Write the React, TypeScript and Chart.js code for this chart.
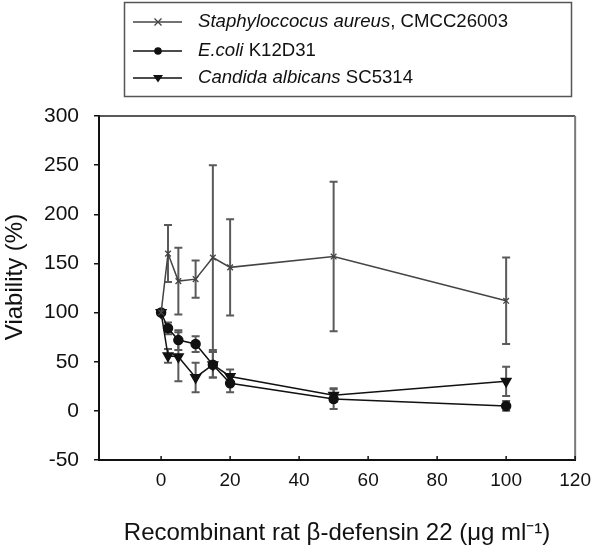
import React, { useEffect, useRef } from "react";
import { Chart, registerables } from "chart.js";

Chart.register(...registerables);

const concentrations = [0, 2, 5, 10, 15, 20, 50, 100];
const aureusValues = [100, 160, 132, 134, 156, 146, 157, 112];
const aureusErrors = [0, 29, 34, 19, 94, 49, 76, 44];
const ecoliValues = [100, 84, 72, 68, 47, 28, 12, 5];
const ecoliErrors = [0, 6, 10, 8, 13, 9, 10, 5];
const albicansValues = [100, 56, 55, 34, 47, 35, 16, 30];
const albicansErrors = [0, 7, 25, 15, 13, 7, 7, 15];
const xTickValues = [0, 20, 40, 60, 80, 100, 120];

const legendItalic = ["Staphyloccocus aureus", "E.coli", "Candida albicans"];
const legendNormal = [", CMCC26003", " K12D31", " SC5314"];
const xTitle = "Recombinant rat \u03b2-defensin 22 (\u03bcg ml\u207b\u00b9)";
const yTitle = "Viability (%)";

const FONT = '"Liberation Sans", Arial, sans-serif';

function drawMarker(ctx: CanvasRenderingContext2D, kind: string, x: number, y: number, color: string) {
  ctx.save();
  ctx.strokeStyle = color;
  ctx.fillStyle = color;
  ctx.lineWidth = 1.3;
  ctx.beginPath();
  if (kind === "cross") {
    const r = 3.5;
    ctx.moveTo(x - r, y - r);
    ctx.lineTo(x + r, y + r);
    ctx.moveTo(x + r, y - r);
    ctx.lineTo(x - r, y + r);
    ctx.stroke();
  } else if (kind === "circle") {
    ctx.arc(x, y, 3.8, 0, Math.PI * 2);
    ctx.fill();
  } else {
    const r = 5;
    ctx.moveTo(x - r, y - r * 0.6);
    ctx.lineTo(x + r, y - r * 0.6);
    ctx.lineTo(x, y + r * 0.9);
    ctx.closePath();
    ctx.fill();
  }
  ctx.restore();
}

const framePlugin = {
  id: "framePlugin",
  beforeDatasetsDraw(chart: any) {
    const { ctx, scales } = chart;
    const x = scales.x;
    const y = scales.y;
    ctx.save();
    ctx.strokeStyle = "#5a5a5a";
    ctx.lineWidth = 2;
    chart.data.datasets.forEach((ds: any) => {
      const errs: number[] = ds.errors || [];
      ds.data.forEach((pt: any, j: number) => {
        const e = errs[j];
        if (!e) return;
        const px = x.getPixelForValue(pt.x);
        const top = y.getPixelForValue(pt.y + e);
        const bot = y.getPixelForValue(pt.y - e);
        ctx.beginPath();
        ctx.moveTo(px, top);
        ctx.lineTo(px, bot);
        ctx.moveTo(px - 4, top);
        ctx.lineTo(px + 4, top);
        ctx.moveTo(px - 4, bot);
        ctx.lineTo(px + 4, bot);
        ctx.stroke();
      });
    });
    ctx.restore();
  },
  afterDraw(chart: any) {
    const { ctx, chartArea, scales } = chart;
    const { left, right, top, bottom } = chartArea;
    ctx.save();
    // top and right frame
    ctx.strokeStyle = "#222";
    ctx.lineWidth = 1.5;
    ctx.beginPath();
    ctx.moveTo(left, top);
    ctx.lineTo(right, top);
    ctx.stroke();
    ctx.strokeStyle = "#7a7a7a";
    ctx.lineWidth = 2;
    ctx.beginPath();
    ctx.moveTo(right, top);
    ctx.lineTo(right, bottom);
    ctx.stroke();
    // x tick marks crossing axis
    ctx.strokeStyle = "#111";
    ctx.lineWidth = 1.5;
    scales.x.ticks.forEach((t: any) => {
      const px = scales.x.getPixelForValue(t.value);
      ctx.beginPath();
      ctx.moveTo(px, bottom - 4);
      ctx.lineTo(px, bottom + 1);
      ctx.stroke();
    });
    // y axis title
    ctx.save();
    ctx.translate(15, 277);
    ctx.rotate(-Math.PI / 2);
    ctx.fillStyle = "#111";
    ctx.font = "24px " + FONT;
    ctx.textAlign = "center";
    ctx.textBaseline = "middle";
    ctx.fillText(yTitle, 0, 0);
    ctx.restore();
    // legend box
    ctx.strokeStyle = "#555";
    ctx.lineWidth = 1.5;
    ctx.strokeRect(124.5, 2.5, 447, 94);
    const rows = [22, 51, 78];
    const kinds = ["cross", "circle", "triangle"];
    const colors = ["#444", "#111", "#111"];
    rows.forEach((ry, i) => {
      ctx.strokeStyle = colors[i];
      ctx.lineWidth = 1.5;
      ctx.beginPath();
      ctx.moveTo(133, ry);
      ctx.lineTo(182, ry);
      ctx.stroke();
      drawMarker(ctx, kinds[i], 158, ry, colors[i]);
      ctx.fillStyle = "#111";
      ctx.textBaseline = "middle";
      ctx.textAlign = "left";
      ctx.font = "italic 18.6px " + FONT;
      ctx.fillText(legendItalic[i], 198, ry);
      const w = ctx.measureText(legendItalic[i]).width;
      ctx.font = "18.6px " + FONT;
      ctx.fillText(legendNormal[i], 198 + w, ry);
    });
    ctx.restore();
  },
};

export default function App() {
  const canvasRef = useRef<HTMLCanvasElement | null>(null);

  useEffect(() => {
    if (!canvasRef.current) return;
    const mk = (vals: number[]) => concentrations.map((c, i) => ({ x: c, y: vals[i] }));
    const chart = new Chart(canvasRef.current, {
      type: "line",
      data: {
        datasets: [
          {
            label: legendItalic[0] + legendNormal[0],
            data: mk(aureusValues),
            errors: aureusErrors,
            borderColor: "#444",
            backgroundColor: "#444",
            borderWidth: 1.5,
            pointStyle: "crossRot",
            pointRadius: 4,
            pointBorderWidth: 1.3,
            tension: 0,
          } as any,
          {
            label: legendItalic[1] + legendNormal[1],
            data: mk(ecoliValues),
            errors: ecoliErrors,
            borderColor: "#111",
            backgroundColor: "#111",
            borderWidth: 1.5,
            pointStyle: "circle",
            pointRadius: 4.5,
            tension: 0,
          } as any,
          {
            label: legendItalic[2] + legendNormal[2],
            data: mk(albicansValues),
            errors: albicansErrors,
            borderColor: "#111",
            backgroundColor: "#111",
            borderWidth: 1.5,
            pointStyle: "triangle",
            pointRotation: 180,
            pointRadius: 5.5,
            tension: 0,
          } as any,
        ],
      },
      options: {
        responsive: false,
        animation: false,
        layout: { padding: { top: 116, right: 22, left: 0, bottom: 0 } },
        plugins: { legend: { display: false }, tooltip: { enabled: false } },
        scales: {
          x: {
            type: "linear",
            min: -18,
            max: 120,
            afterBuildTicks: (scale: any) => {
              scale.ticks = xTickValues.map((v) => ({ value: v }));
            },
            afterFit: (scale: any) => {
              scale.height = 99;
            },
            grid: { drawOnChartArea: false, drawTicks: false },
            border: { display: true, color: "#111", width: 2 },
            ticks: {
              padding: 9,
              color: "#111",
              font: { family: FONT, size: 19 },
              maxRotation: 0,
            },
            title: {
              display: true,
              text: xTitle,
              color: "#111",
              font: { family: FONT, size: 24 },
              padding: { top: 0, bottom: 11 },
            },
          },
          y: {
            type: "linear",
            min: -50,
            max: 300,
            afterFit: (scale: any) => {
              scale.width = 99;
            },
            grid: { drawOnChartArea: false, drawTicks: true, tickLength: 5, color: "#111", lineWidth: 1.5 },
            border: { display: true, color: "#111", width: 2 },
            ticks: {
              stepSize: 50,
              padding: 15,
              color: "#111",
              font: { family: FONT, size: 21 },
            },
            title: { display: false },
          },
        },
      } as any,
      plugins: [framePlugin],
    });
    return () => chart.destroy();
  }, []);

  return (
    <div style={{ position: "absolute", left: 0, top: 0, width: 600, height: 559, background: "#fff" }}>
      <canvas ref={canvasRef} width={600} height={559} style={{ display: "block" }} />
    </div>
  );
}
